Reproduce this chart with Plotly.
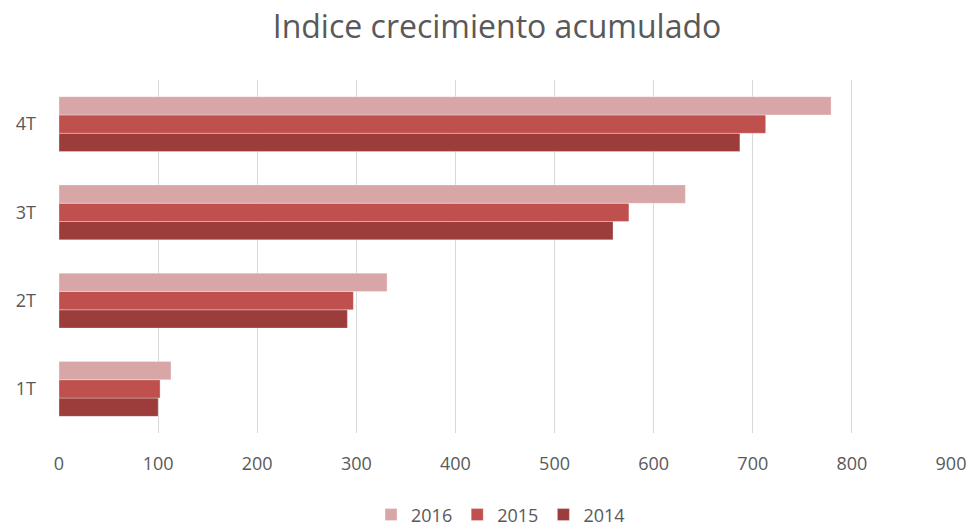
import plotly.graph_objects as go

categories = ["1T", "2T", "3T", "4T"]
years = ["2014", "2015", "2016"]
values_2014 = [100, 291, 559, 687]
values_2015 = [102, 297, 575, 713]
values_2016 = [113, 331, 632, 779]
colors = {"2014": "#9C3D3C", "2015": "#C0504D", "2016": "#D9A6A7"}
x_ticks = [0, 100, 200, 300, 400, 500, 600, 700, 800, 900]

series = {"2014": values_2014, "2015": values_2015, "2016": values_2016}

fig = go.Figure()
for y in years:
    fig.add_trace(go.Bar(
        y=categories, x=series[y], name=y, orientation="h",
        marker=dict(color=colors[y], line=dict(color="rgba(255,255,255,0.5)", width=0.6)),
    ))

font_family = "Open Sans, Liberation Sans, sans-serif"
fig.update_layout(
    width=973, height=526,
    barmode="group", bargap=0.377, bargroupgap=0,
    plot_bgcolor="white", paper_bgcolor="white",
    margin=dict(l=59, r=22, t=80, b=93, autoexpand=False),
    title=dict(text="Indice crecimiento acumulado", x=497 / 973, xanchor="center",
               y=1 - 27 / 526, yanchor="middle", yref="container",
               font=dict(family=font_family, size=32, color="#595959")),
    font=dict(family=font_family, size=18, color="#595959"),
    showlegend=True,
    legend=dict(orientation="h", x=0.495, xanchor="center", y=-0.232, yanchor="middle",
                traceorder="reversed", font=dict(size=18, color="#595959"),
                itemwidth=30),
    xaxis=dict(range=[0, 900], tickvals=x_ticks, showgrid=True, gridcolor="#D9D9D9",
               gridwidth=1.3, zeroline=False, showline=False, ticks="",
               tickfont=dict(size=18, color="#595959"), ticklabelstandoff=18,
               automargin=False),
    yaxis=dict(showgrid=False, zeroline=False, showline=False, ticks="",
               tickfont=dict(size=18, color="#595959"), ticklabelstandoff=22,
               automargin=False),
)

fig.write_html("out.html", config={"displayModeBar": False},
               post_script="document.body.style.margin='0';document.body.style.overflow='hidden';")
